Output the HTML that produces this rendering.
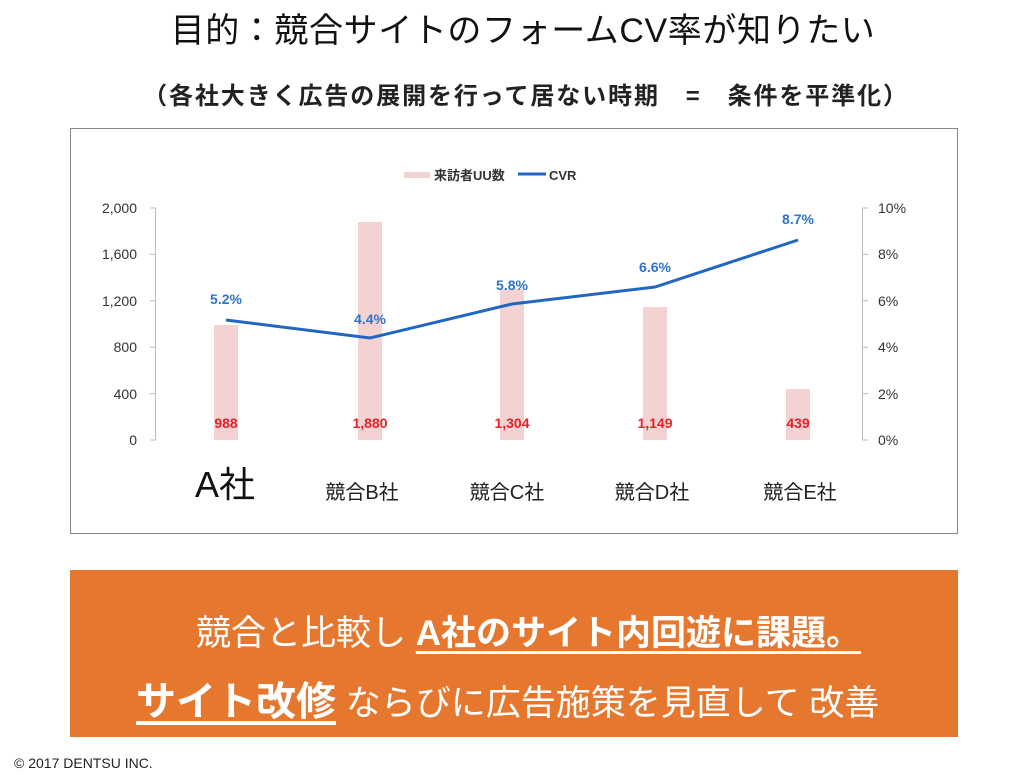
<!DOCTYPE html>
<html><head><meta charset="utf-8"><style>
body{margin:0;width:1016px;height:777px;background:#fff;position:relative;overflow:hidden;font-family:"Liberation Sans","Noto Sans CJK JP",sans-serif;}
.abs{position:absolute;white-space:nowrap}
</style></head><body>
<div class="abs" style="left:0;width:1046px;top:3px;text-align:center;font-size:34px;letter-spacing:0.6px;color:#111;">目的：競合サイトのフォームCV率が知りたい</div>
<div class="abs" style="left:0;width:1052px;top:76px;text-align:center;font-size:24px;letter-spacing:1.9px;font-weight:bold;color:#222;">（各社大きく広告の展開を行って居ない時期　=　条件を平準化）</div>
<div class="abs" style="left:70px;top:128px;width:888px;height:406px;border:1px solid #888;box-sizing:border-box;"></div>
<svg class="abs" style="left:0;top:0" width="1016" height="560" font-family="Liberation Sans, Noto Sans CJK JP, sans-serif">
<g fill="#f2d3d2">
<rect x="214" y="325" width="24" height="115"/>
<rect x="358" y="222" width="24" height="218"/>
<rect x="500" y="289" width="24" height="151"/>
<rect x="643" y="307" width="24" height="133"/>
<rect x="786" y="389" width="24" height="51"/>
</g>
<g stroke="#bbb" stroke-width="1" fill="none">
<path d="M155.5 208V440M150 208h6M150 254.4h6M150 300.8h6M150 347.2h6M150 393.6h6M150 440h6"/>
<path d="M862.5 208V440M862 208h6M862 254.4h6M862 300.8h6M862 347.2h6M862 393.6h6M862 440h6"/>
</g>
<g font-size="14" fill="#333" text-anchor="end">
<text x="137" y="213">2,000</text><text x="137" y="259">1,600</text><text x="137" y="306">1,200</text><text x="137" y="352">800</text><text x="137" y="399">400</text><text x="137" y="445">0</text>
</g>
<g font-size="14" fill="#333">
<text x="878" y="213">10%</text><text x="878" y="259">8%</text><text x="878" y="306">6%</text><text x="878" y="352">4%</text><text x="878" y="399">2%</text><text x="878" y="445">0%</text>
</g>
<polyline points="226,320 370,338 512,304 655,287 798,240" fill="none" stroke="#2266c4" stroke-width="3"/>
<g font-size="14" font-weight="bold" fill="#2e74cc" text-anchor="middle">
<text x="226" y="304">5.2%</text><text x="370" y="324">4.4%</text><text x="512" y="290">5.8%</text><text x="655" y="272">6.6%</text><text x="798" y="224">8.7%</text>
</g>
<g font-size="14" font-weight="bold" fill="#e8202a" text-anchor="middle">
<text x="226" y="428">988</text><text x="370" y="428">1,880</text><text x="512" y="428">1,304</text><text x="655" y="428">1,149</text><text x="798" y="428">439</text>
</g>
<rect x="404" y="172" width="26" height="6" fill="#f2d3d2"/>
<text x="434" y="180" font-size="13" font-weight="bold" fill="#333">来訪者UU数</text>
<line x1="518" y1="174" x2="546" y2="174" stroke="#2266c4" stroke-width="3"/>
<text x="549" y="180" font-size="13" font-weight="bold" fill="#333">CVR</text>
<text x="225" y="497" font-size="36" fill="#111" text-anchor="middle">A社</text>
<g font-size="20" fill="#222" text-anchor="middle">
<text x="362" y="499">競合B社</text><text x="507" y="499">競合C社</text><text x="652" y="499">競合D社</text><text x="800" y="499">競合E社</text>
</g>
</svg>
<div class="abs" style="left:70px;top:570px;width:888px;height:167px;background:#e5782e;"></div>
<div class="abs" style="left:196px;top:605px;font-size:35px;color:#fff;">競合と比較し <b style="text-decoration:underline;text-underline-offset:6px;">A社のサイト内回遊に課題。</b></div>
<div class="abs" style="left:136px;top:669px;font-size:35px;color:#fff;"><b style="font-size:40px;text-decoration:underline;text-underline-offset:6px;">サイト改修</b> ならびに広告施策を見直して 改善</div>
<div class="abs" style="left:14px;top:755px;font-size:14px;color:#222;">© 2017 DENTSU INC.</div>
</body></html>
